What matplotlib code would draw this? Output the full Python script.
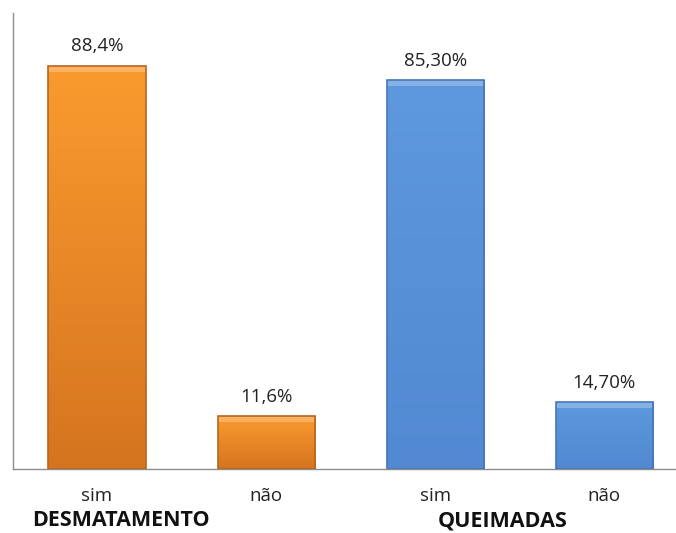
import matplotlib.pyplot as plt
import numpy as np
from matplotlib.colors import LinearSegmentedColormap

plt.rcParams['font.family'] = ['Open Sans', 'DejaVu Sans']

categories = ['sim', 'não', 'sim', 'não']
values = [88.4, 11.6, 85.3, 14.7]
labels = ['88,4%', '11,6%', '85,30%', '14,70%']
groups = ['DESMATAMENTO', 'QUEIMADAS']
group_pos = [0.142, 2.397]

orange = LinearSegmentedColormap.from_list('o', ['#d5741f', '#fa9b2f'])
blue = LinearSegmentedColormap.from_list('b', ['#5289d2', '#5e98de'])
cmaps = [orange, orange, blue, blue]
edges = ['#b8651c', '#b8651c', '#4577b8', '#4577b8']

fig = plt.figure(figsize=(6.76, 5.33), dpi=100)
ax = fig.add_axes([0.0185, 0.12, 0.982, 0.8555])

x = np.arange(len(values))
bars = ax.bar(x, values, width=0.575, color='none', edgecolor='none', zorder=2)

grad = np.linspace(0, 1, 256).reshape(-1, 1)
for b, cm, ec, lab in zip(bars, cmaps, edges, labels):
    x0, y0 = b.get_x(), b.get_y()
    w, h = b.get_width(), b.get_height()
    im = ax.imshow(grad, cmap=cm, origin='lower', aspect='auto',
                   extent=[x0, x0 + w, y0, y0 + h], zorder=1)
    im.set_clip_path(b)
    # bevel highlight at the top
    ax.add_patch(plt.Rectangle((x0, y0 + h - 1.3), w, 1.3, color='white',
                               alpha=0.25, lw=0, zorder=3))
    ax.add_patch(plt.Rectangle((x0, y0), w, h, fill=False, ec=ec, lw=1.2,
                               zorder=4))
    ax.text(x0 + w / 2, y0 + h + 2.3, lab, ha='center', va='bottom',
            fontsize=13.5, color='#222222')

ax.set_xlim(-0.5, 3.426)
ax.set_ylim(0, 100)
ax.set_xticks(x)
ax.set_xticklabels(categories, fontsize=13.5, color='#222222')
ax.tick_params(axis='x', length=0, pad=13)
ax.set_yticks([])
for s in ['top', 'right']:
    ax.spines[s].set_visible(False)
for s in ['left', 'bottom']:
    ax.spines[s].set_color('#8c8c8c')
    ax.spines[s].set_linewidth(1)

for g, p in zip(groups, group_pos):
    ax.text(p, -11.3, g, ha='center', va='center', fontsize=15.5,
            fontweight='bold', color='#111111', clip_on=False)

fig.savefig('out.png', dpi=100)
